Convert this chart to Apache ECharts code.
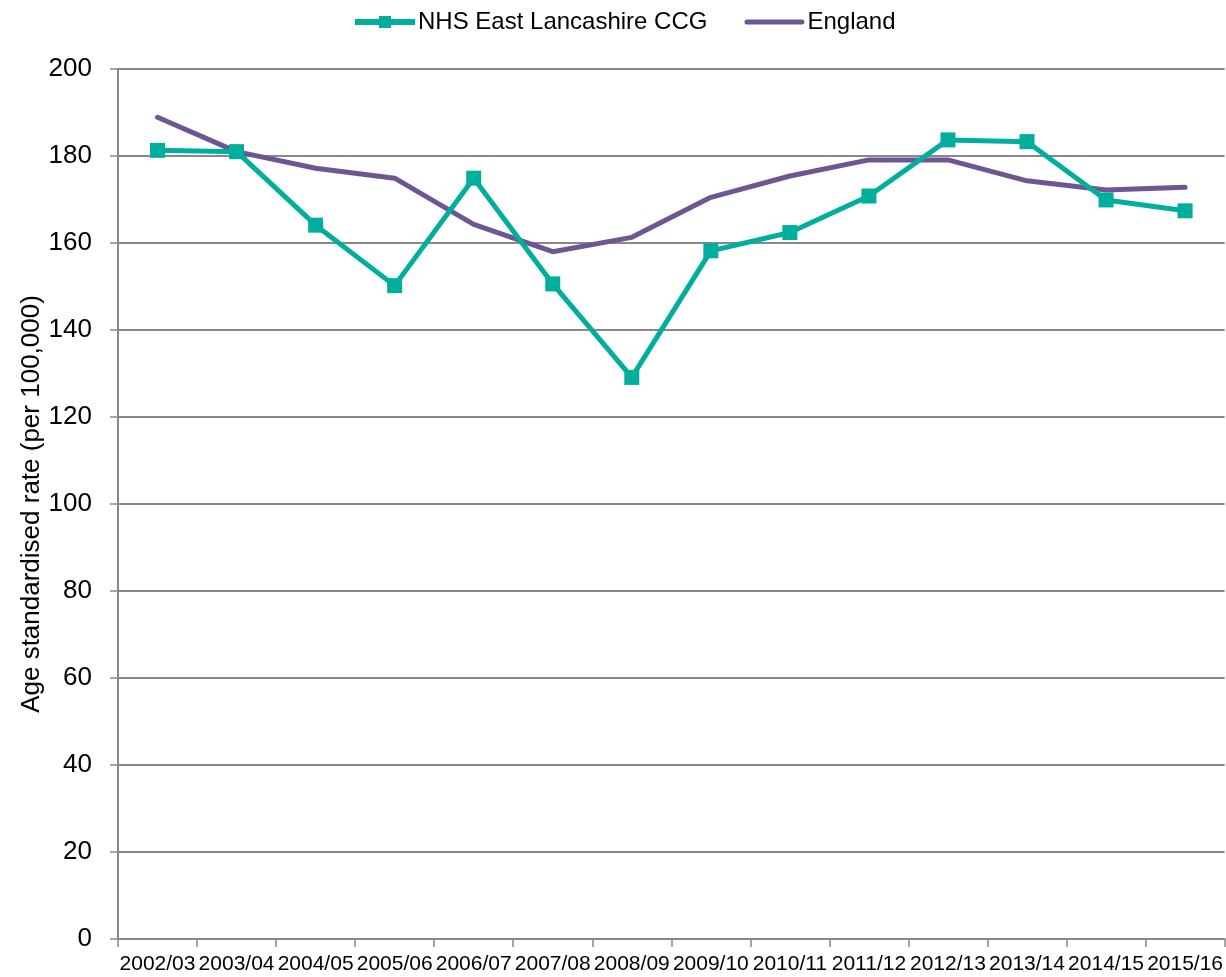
<!DOCTYPE html>
<html>
<head>
<meta charset="utf-8">
<script src="https://cdn.jsdelivr.net/npm/echarts@6/dist/echarts.min.js"></script>
<style>
html,body{margin:0;padding:0;background:#fff;}
#chart{width:1226px;height:977px;}
</style>
</head>
<body>
<div id="chart"></div>
<script>
const categories = ['2002/03','2003/04','2004/05','2005/06','2006/07','2007/08','2008/09','2009/10','2010/11','2011/12','2012/13','2013/14','2014/15','2015/16'];
const ccgValues = [181.3, 181.0, 164.1, 150.2, 174.9, 150.6, 129.1, 158.2, 162.4, 170.8, 183.7, 183.3, 169.9, 167.4];
const englandValues = [188.9, 181.0, 177.2, 174.9, 164.3, 158.0, 161.3, 170.5, 175.4, 179.1, 179.1, 174.3, 172.2, 172.8];
const seriesNames = ['NHS East Lancashire CCG', 'England'];
const yAxisTitle = 'Age standardised rate (per 100,000)';

const font = '"Liberation Sans", Arial, sans-serif';
const teal = '#00AE9D';
const purple = '#6E5694';
const chart = echarts.init(document.getElementById('chart'), null, {renderer: 'canvas'});
chart.setOption({
  animation: false,
  backgroundColor: '#ffffff',
  textStyle: {fontFamily: font, color: '#000'},
  legend: {
    top: 5,
    left: 347,
    itemGap: 37,
    itemWidth: 60,
    itemHeight: 15,
    lineStyle: {width: 6},
    textStyle: {fontFamily: font, fontSize: 24, color: '#000', padding: [0,0,0,-2]},
    data: [
      {name: seriesNames[0]},
      {name: seriesNames[1], icon: 'path://M2.5,0 H57.5 A2.5,2.5 0 0 1 57.5,5 H2.5 A2.5,2.5 0 0 1 2.5,0 Z', itemStyle: {color: purple}}
    ]
  },
  grid: {left: 118, right: 0, top: 69, bottom: 38, containLabel: false},
  xAxis: {
    type: 'category',
    data: categories,
    boundaryGap: true,
    axisLine: {lineStyle: {color: '#888888', width: 2}},
    axisTick: {show: true, length: 8, alignWithLabel: false, lineStyle: {color: '#888888', width: 1.5}},
    axisLabel: {interval: 0, margin: 15, fontFamily: font, fontSize: 21, color: '#000'},
    splitLine: {show: false}
  },
  yAxis: {
    type: 'value',
    min: 0, max: 200, interval: 20,
    name: yAxisTitle,
    nameLocation: 'middle',
    nameGap: 73,
    nameMoveOverlap: false,
    nameRotate: 90,
    nameTextStyle: {fontFamily: font, fontSize: 26, color: '#000'},
    axisLine: {show: true, lineStyle: {color: '#888888', width: 2}},
    axisTick: {show: true, length: 8, lineStyle: {color: '#888888', width: 1.5}},
    axisLabel: {margin: 26, fontFamily: font, fontSize: 26, color: '#000'},
    splitLine: {show: true, lineStyle: {color: '#888888', width: 2}}
  },
  series: [
    {
      name: seriesNames[0],
      type: 'line',
      data: ccgValues,
      symbol: 'rect',
      symbolSize: 15,
      itemStyle: {color: teal},
      lineStyle: {color: teal, width: 5},
      z: 3
    },
    {
      name: seriesNames[1],
      type: 'line',
      data: englandValues,
      symbol: 'none',
      showSymbol: false,
      itemStyle: {color: purple},
      lineStyle: {color: purple, width: 5, cap: 'round'},
      z: 2
    }
  ]
});
</script>
</body>
</html>
